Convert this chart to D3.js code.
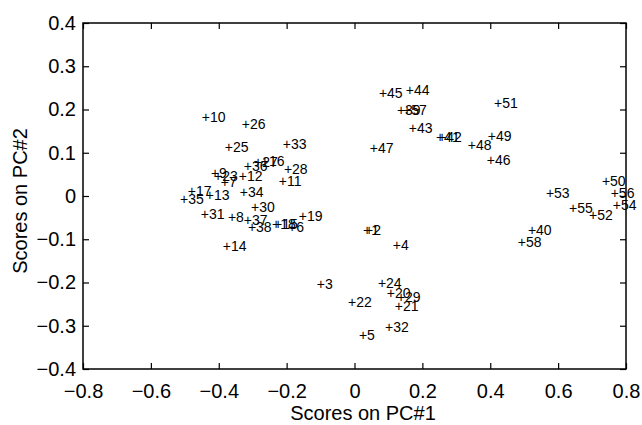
<!doctype html>
<html>
  <head>
    <style>
      body { margin: 0; background: #fff; }
      svg text { font-family: "Liberation Sans", Arial, Helvetica, sans-serif; fill: #000; }
    </style>
  </head>
  <body>
    <svg id="chart" width="642" height="425"></svg>
    <script src="https://d3js.org/d3.v7.min.js"></script>
    <script>
      // sample numbers and their scores
      const ids = [1, 2, 3, 4, 5, 6, 7, 8, 9, 10, 11, 12, 13, 14, 15, 16, 17, 18, 19, 20,
        21, 22, 23, 24, 25, 26, 27, 28, 29, 30, 31, 32, 33, 34, 35, 36, 37, 38, 39, 40,
        41, 42, 43, 44, 45, 46, 47, 48, 49, 50, 51, 52, 53, 54, 55, 56, 57, 58];
      const pc1 = [0.037, 0.043, -0.099, 0.125, 0.025, -0.184, -0.382, -0.361, -0.411, -0.438,
        -0.211, -0.329, -0.426, -0.376, -0.225, -0.264, -0.479, -0.231, -0.152, 0.107,
        0.131, -0.007, -0.402, 0.081, -0.370, -0.320, -0.284, -0.196, 0.137, -0.293,
        -0.441, 0.102, -0.199, -0.326, -0.502, -0.314, -0.314, -0.302, 0.137, 0.523,
        0.252, 0.258, 0.172, 0.163, 0.084, 0.402, 0.057, 0.346, 0.405, 0.741,
        0.423, 0.703, 0.576, 0.773, 0.644, 0.767, 0.155, 0.493];
      const pc2 = [-0.079, -0.079, -0.203, -0.113, -0.321, -0.072, 0.032, -0.049, 0.053, 0.183,
        0.035, 0.046, 0.002, -0.116, -0.065, 0.081, 0.012, -0.065, -0.046, -0.224,
        -0.254, -0.245, 0.046, -0.201, 0.113, 0.166, 0.079, 0.062, -0.234, -0.025,
        -0.042, -0.303, 0.120, 0.009, -0.007, 0.069, -0.055, -0.072, 0.199, -0.079,
        0.136, 0.136, 0.157, 0.245, 0.238, 0.083, 0.111, 0.118, 0.139, 0.035,
        0.215, -0.044, 0.007, -0.021, -0.028, 0.007, 0.199, -0.106];

      const xTicks = [-0.8, -0.6, -0.4, -0.2, 0, 0.2, 0.4, 0.6, 0.8];
      const xTickLabels = ['\u22120.8', '\u22120.6', '\u22120.4', '\u22120.2', '0', '0.2', '0.4', '0.6', '0.8'];
      const yTicks = [-0.4, -0.3, -0.2, -0.1, 0, 0.1, 0.2, 0.3, 0.4];
      const yTickLabels = ['\u22120.4', '\u22120.3', '\u22120.2', '\u22120.1', '0', '0.1', '0.2', '0.3', '0.4'];

      const svg = d3.select('#chart');
      const margin = { top: 23, right: 16, bottom: 56, left: 83 };
      const width = 642 - margin.left - margin.right;
      const height = 425 - margin.top - margin.bottom;

      const x = d3.scaleLinear().domain([-0.8, 0.8]).range([0, width]);
      const y = d3.scaleLinear().domain([-0.4, 0.4]).range([height, 0]);

      const g = svg.append('g').attr('transform', `translate(${margin.left},${margin.top})`);

      // inward ticks on all four sides, MATLAB style
      const xLab = (d) => xTickLabels[xTicks.indexOf(d)];
      const yLab = (d) => yTickLabels[yTicks.indexOf(d)];

      g.append('g')
        .attr('transform', `translate(0,${height})`)
        .call(d3.axisBottom(x).tickValues(xTicks).tickFormat(xLab)
          .tickSizeInner(-6).tickSizeOuter(0).tickPadding(15));
      g.append('g')
        .call(d3.axisLeft(y).tickValues(yTicks).tickFormat(yLab)
          .tickSizeInner(-6).tickSizeOuter(0).tickPadding(7));
      g.append('g')
        .call(d3.axisTop(x).tickValues(xTicks).tickFormat('')
          .tickSizeInner(-6).tickSizeOuter(0));
      g.append('g')
        .attr('transform', `translate(${width},0)`)
        .call(d3.axisRight(y).tickValues(yTicks).tickFormat('')
          .tickSizeInner(-6).tickSizeOuter(0));

      g.selectAll('.domain').remove();
      g.selectAll('.tick line').attr('stroke', '#000').attr('stroke-width', 1.2);
      g.selectAll('.tick text')
        .attr('font-size', 20)
        .attr('font-family', '"Liberation Sans", Arial, Helvetica, sans-serif');

      g.append('rect')
        .attr('width', width)
        .attr('height', height)
        .attr('fill', 'none')
        .attr('stroke', '#000')
        .attr('stroke-width', 1.5);

      // point labels: the "+" sits on the data point
      const pts = ids.map((id, i) => ({ id: id, a: pc1[i], b: pc2[i] }));
      g.selectAll('.pt')
        .data(pts)
        .enter()
        .append('text')
        .attr('class', 'pt')
        .attr('x', (d) => x(d.a) - 4.1)
        .attr('y', (d) => y(d.b) + 4.9)
        .attr('font-size', 14)
        .text((d) => '+' + d.id);

      // axis titles
      svg.append('text')
        .attr('x', 363)
        .attr('y', 420)
        .attr('text-anchor', 'middle')
        .attr('font-size', 20)
        .text('Scores on PC#1');

      svg.append('text')
        .attr('transform', 'translate(27,201) rotate(-90)')
        .attr('text-anchor', 'middle')
        .attr('font-size', 20)
        .text('Scores on PC#2');
    </script>
  </body>
</html>
